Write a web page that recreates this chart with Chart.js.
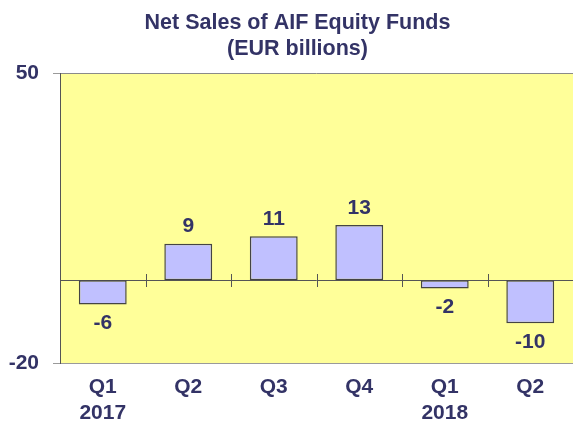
<!DOCTYPE html>
<html>
<head>
<meta charset="utf-8">
<script src="https://cdn.jsdelivr.net/npm/chart.js@4"></script>
<style>
html,body{margin:0;padding:0;background:#fff;}
#wrap{width:573px;height:424px;position:relative;}
</style>
</head>
<body>
<div id="wrap"><canvas id="c" width="573" height="424"></canvas></div>
<script>
const titleLines = ["Net Sales of AIF Equity Funds", "(EUR billions)"];
const categories = [["Q1","2017"], "Q2", "Q3", "Q4", ["Q1","2018"], "Q2"];
const netSales = [-5.9, 8.8, 10.6, 13.3, -2.0, -10.4];
const yTicks = [-20, 50];

const TEXT = '#333366';
const FONT = '"Liberation Sans", Arial, sans-serif';

const decor = {
  id: 'decor',
  beforeDraw(chart) {
    const {ctx, chartArea: a} = chart;
    ctx.save();
    ctx.fillStyle = '#FFFF99';
    ctx.fillRect(a.left, a.top, a.right - a.left, a.bottom - a.top);
    ctx.strokeStyle = '#8a8a8a';
    ctx.lineWidth = 1;
    ctx.beginPath();
    ctx.moveTo(a.left, a.top + 0.5); ctx.lineTo(a.right, a.top + 0.5);
    ctx.stroke();
    // title
    ctx.fillStyle = TEXT;
    ctx.font = 'bold 21.5px ' + FONT;
    ctx.textAlign = 'center';
    ctx.textBaseline = 'alphabetic';
    ctx.fillText(titleLines[0], 297.5, 28.5);
    ctx.fillText(titleLines[1], 297.5, 55);
    ctx.restore();
  },
  beforeDatasetsDraw(chart) {
    const {ctx, chartArea: a, scales} = chart;
    const y0 = Math.round(scales.y.getPixelForValue(0)) + 0.5;
    ctx.save();
    ctx.strokeStyle = '#555555';
    ctx.lineWidth = 1;
    ctx.beginPath();
    ctx.moveTo(a.left, y0); ctx.lineTo(a.right, y0);
    for (let i = 0; i < categories.length - 1; i++) {
      const xb = Math.round((scales.x.getPixelForValue(i) + scales.x.getPixelForValue(i + 1)) / 2) + 0.5;
      ctx.moveTo(xb, y0 - 6.5); ctx.lineTo(xb, y0 + 6.5);
    }
    ctx.stroke();
    ctx.restore();
  },
  afterDatasetsDraw(chart) {
    const {ctx} = chart;
    const meta = chart.getDatasetMeta(0);
    ctx.save();
    ctx.fillStyle = TEXT;
    ctx.font = 'bold 21px ' + FONT;
    ctx.textAlign = 'center';
    ctx.textBaseline = 'middle';
    meta.data.forEach((bar, i) => {
      const v = netSales[i];
      const label = String(Math.round(v));
      const y = v >= 0 ? bar.y - 17 : bar.y + 19;
      ctx.fillText(label, bar.x, y);
    });
    ctx.restore();
  }
};

new Chart(document.getElementById('c'), {
  type: 'bar',
  data: {
    labels: categories,
    datasets: [{
      data: netSales,
      backgroundColor: '#C0C0FF',
      borderColor: '#444444',
      borderWidth: 1.5,
      borderSkipped: false,
      barPercentage: 0.56,
      categoryPercentage: 1.0
    }]
  },
  options: {
    responsive: false,
    animation: false,
    devicePixelRatio: 1,
    layout: { padding: { top: 73, right: -3, left: 0, bottom: 0 } },
    plugins: { legend: { display: false }, tooltip: { enabled: false }, title: { display: false } },
    scales: {
      x: {
        grid: { display: false, drawTicks: false },
        border: { display: true, color: '#9a9a9a', width: 1 },
        ticks: {
          color: TEXT,
          font: { family: FONT, size: 21, weight: 'bold', lineHeight: 1.25 },
          padding: 11,
          maxRotation: 0,
          autoSkip: false
        },
        afterFit(s) { s.height = 61; }
      },
      y: {
        min: -20,
        max: 50,
        afterBuildTicks(s) { s.ticks = yTicks.map(v => ({ value: v })); },
        grid: { display: true, drawOnChartArea: false, drawTicks: true, tickLength: 7, color: '#9a9a9a' },
        border: { display: true, color: '#555555', width: 1 },
        ticks: {
          color: TEXT,
          font: { family: FONT, size: 21, weight: 'bold' },
          padding: 14
        },
        afterFit(s) { s.width = 60; }
      }
    }
  },
  plugins: [decor]
});
</script>
</body>
</html>
